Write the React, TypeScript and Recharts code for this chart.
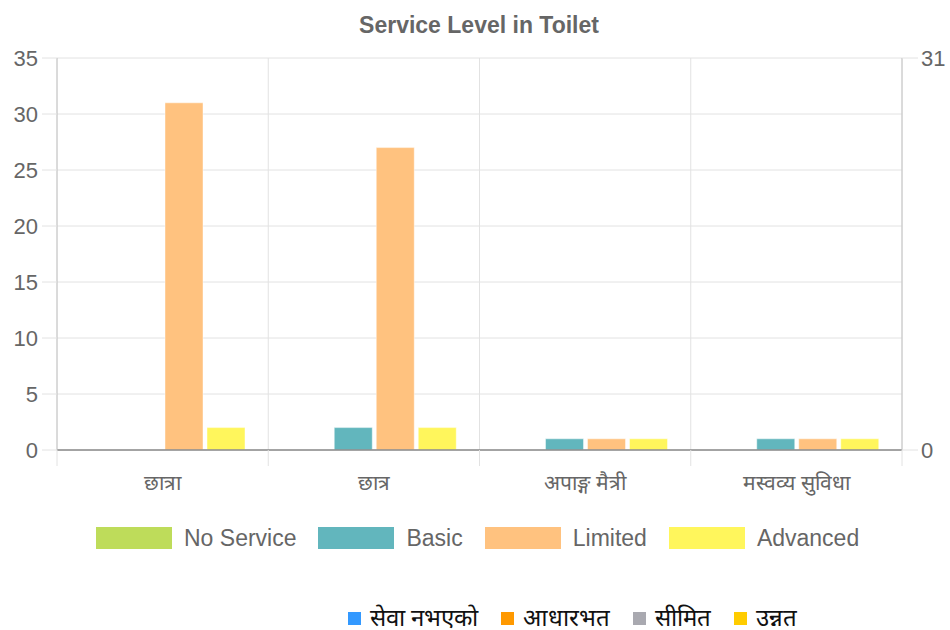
import { Bar, ComposedChart, CartesianGrid, Line, XAxis, YAxis } from "recharts";

const categories = ["छात्रा", "छात्र", "अपाङ्ग मैत्री", "मस्वव्य सुविधा"];
const noService = [0, 0, 0, 0];
const basic = [0, 2, 1, 1];
const limited = [31, 27, 1, 1];
const advanced = [2, 2, 1, 1];
const leftTicks = [0, 5, 10, 15, 20, 25, 30, 35];
const rightTicks = [0, 31];

const series = [
  { key: "noService", name: "No Service", color: "#bedc5a" },
  { key: "basic", name: "Basic", color: "#62b6bd" },
  { key: "limited", name: "Limited", color: "#ffc27f" },
  { key: "advanced", name: "Advanced", color: "#fff65c" },
];

const nepaliLegend = [
  { name: "सेवा नभएको", color: "#3399ff" },
  { name: "आधारभत", color: "#ff9900" },
  { name: "सीमित", color: "#a9a9b0" },
  { name: "उन्नत", color: "#ffcc00" },
];

const data = categories.map((label, i) => ({
  label,
  noService: noService[i],
  basic: basic[i],
  limited: limited[i],
  advanced: advanced[i],
}));

const font = "'Liberation Sans', Arial, sans-serif";
const gridColor = "#e2e2e2";
const labelGap = 18;

// grid lines sit on the category boundaries, not on the category centres
const boundaryLines = ({ offset }: any) =>
  Array.from(
    { length: categories.length + 1 },
    (_, i) => offset.left + (i * offset.width) / categories.length
  );

// category label plus the short boundary marks under the axis
const CategoryTick = (props: any) => {
  const { x, y, payload, index } = props;
  const half = payload?.offset ?? 0;
  const axisY = y - labelGap;
  return (
    <g>
      <line
        x1={x - half}
        x2={x - half}
        y1={axisY}
        y2={axisY + 16}
        stroke={gridColor}
      />
      {index === categories.length - 1 ? (
        <line
          x1={x + half}
          x2={x + half}
          y1={axisY}
          y2={axisY + 16}
          stroke={gridColor}
        />
      ) : null}
      <text
        x={x}
        y={y + 7}
        dy="0.71em"
        textAnchor="middle"
        fill="#666"
        fontSize={21}
      >
        {payload.value}
      </text>
    </g>
  );
};

export default function App() {
  return (
    <div
      style={{
        position: "absolute",
        left: 0,
        top: 0,
        width: 950,
        height: 630,
        background: "#fff",
        fontFamily: font,
      }}
    >
      <div
        style={{
          position: "absolute",
          top: 11,
          left: 0,
          width: 958,
          textAlign: "center",
          fontSize: 23,
          lineHeight: "28px",
          fontWeight: "bold",
          color: "#666",
        }}
      >
        Service Level in Toilet
      </div>

      <ComposedChart
        width={950}
        height={500}
        data={data}
        margin={{ top: 58, right: 0, bottom: 10, left: 0 }}
        barGap={4}
        barSize={38}
        style={{ position: "absolute", left: 0, top: 0 }}
      >
        <CartesianGrid
          yAxisId="left"
          stroke={gridColor}
          strokeWidth={1}
          verticalCoordinatesGenerator={boundaryLines}
        />
        <XAxis
          dataKey="label"
          tickLine={false}
          tickSize={0}
          tickMargin={labelGap}
          axisLine={{ stroke: "#8a8a8a", strokeWidth: 1.5 }}
          tick={CategoryTick}
          height={40}
          interval={0}
        />
        <YAxis
          yAxisId="left"
          domain={[0, 35]}
          ticks={leftTicks}
          width={57}
          tickSize={15}
          tickMargin={4}
          axisLine={{ stroke: "#c4c4c4" }}
          tickLine={{ stroke: gridColor }}
          tick={{ fill: "#666", fontSize: 22 }}
          interval={0}
        />
        <YAxis
          yAxisId="right"
          orientation="right"
          domain={[0, 31]}
          ticks={rightTicks}
          width={48}
          tickSize={16}
          tickMargin={3}
          axisLine={{ stroke: "#c4c4c4" }}
          tickLine={{ stroke: gridColor }}
          tick={{ fill: "#666", fontSize: 22 }}
          interval={0}
        />
        {series.map((s) => (
          <Bar
            key={s.key}
            dataKey={s.key}
            name={s.name}
            yAxisId="left"
            fill={s.color}
            stroke="rgba(255,255,255,0.45)"
            strokeWidth={1}
            isAnimationActive={false}
          />
        ))}
        <Line
          yAxisId="right"
          dataKey="limited"
          stroke="none"
          dot={false}
          activeDot={false}
          legendType="none"
          isAnimationActive={false}
        />
      </ComposedChart>

      <div
        style={{
          position: "absolute",
          top: 524,
          left: 96,
          display: "flex",
          alignItems: "center",
          height: 28,
        }}
      >
        {series.map((s) => (
          <div
            key={s.key}
            style={{ display: "flex", alignItems: "center", marginRight: 22 }}
          >
            <span
              style={{
                display: "inline-block",
                width: 76,
                height: 22,
                background: s.color,
                marginRight: 12,
              }}
            />
            <span style={{ fontSize: 23, color: "#666" }}>{s.name}</span>
          </div>
        ))}
      </div>

      <div
        style={{
          position: "absolute",
          top: 607,
          left: 348,
          display: "flex",
          alignItems: "center",
          height: 22,
          fontFamily: "serif",
        }}
      >
        {nepaliLegend.map((s) => (
          <div
            key={s.name}
            style={{ display: "flex", alignItems: "center", marginRight: 23 }}
          >
            <span
              style={{
                display: "inline-block",
                width: 13,
                height: 13,
                background: s.color,
                marginRight: 9,
              }}
            />
            <span style={{ fontSize: 24, lineHeight: "22px", color: "#111" }}>
              {s.name}
            </span>
          </div>
        ))}
      </div>
    </div>
  );
}
